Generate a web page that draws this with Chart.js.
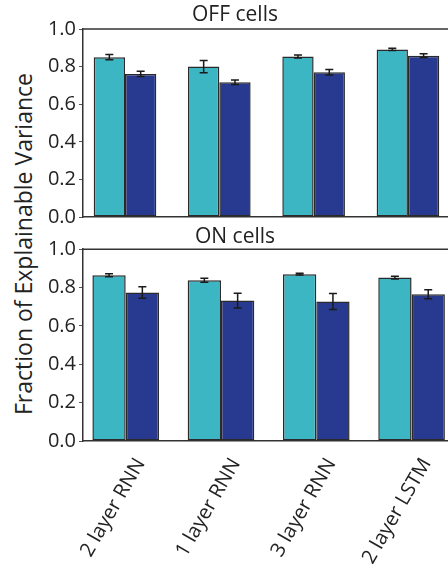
<!DOCTYPE html>
<html>
<head>
<meta charset="utf-8">
<script src="https://cdn.jsdelivr.net/npm/chart.js@4/dist/chart.umd.min.js"></script>
<style>
    html, body { margin: 0; padding: 0; background: #fff; overflow: hidden; }
    #wrap { position: relative; width: 470px; height: 569px; }
    #wrap canvas { position: absolute; left: 0; }
    #ylabel {
        position: absolute; left: 23px; top: 244px;
        transform: translate(-50%, -50%) rotate(-90deg);
        white-space: nowrap;
        font: 23px 'Open Sans', sans-serif;
        color: #222;
    }
</style>
</head>
<body>
<div id="wrap">
    <div id="ylabel">Fraction of Explainable Variance</div>
    <canvas id="offChart" width="470" height="232" style="top:0px"></canvas>
    <canvas id="onChart" width="470" height="347" style="top:222px"></canvas>
</div>
<script>
// Data
const categories = ['2 layer RNN', '1 layer RNN', '3 layer RNN', '2 layer LSTM'];
const yTicks = [0.0, 0.2, 0.4, 0.6, 0.8, 1.0];

const offCyan = [0.850, 0.800, 0.854, 0.891];
const offCyanErr = [0.014, 0.033, 0.008, 0.006];
const offBlue = [0.761, 0.717, 0.770, 0.858];
const offBlueErr = [0.014, 0.012, 0.015, 0.010];

const onCyan = [0.864, 0.838, 0.870, 0.852];
const onCyanErr = [0.008, 0.010, 0.005, 0.007];
const onBlue = [0.774, 0.732, 0.727, 0.765];
const onBlueErr = [0.030, 0.038, 0.042, 0.023];

const CYAN = '#3db6c4';
const BLUE = '#283a8f';
const EDGE = '#2a2a2a';

Chart.defaults.font.family = "'Open Sans', sans-serif";
Chart.defaults.color = '#222';

// error bars drawn through the y scale
const errorBars = {
    id: 'errorBars',
    afterDatasetsDraw(chart) {
        const ctx = chart.ctx;
        const yScale = chart.scales.y;
        chart.data.datasets.forEach((ds, di) => {
            const meta = chart.getDatasetMeta(di);
            meta.data.forEach((bar, i) => {
                const v = ds.data[i].y;
                const e = ds.errors[i];
                const top = yScale.getPixelForValue(v + e);
                const bot = yScale.getPixelForValue(v - e);
                ctx.save();
                ctx.strokeStyle = '#1a1a1a';
                ctx.lineWidth = 1.5;
                ctx.beginPath();
                ctx.moveTo(bar.x, top); ctx.lineTo(bar.x, bot);
                ctx.moveTo(bar.x - 4, top); ctx.lineTo(bar.x + 4, top);
                ctx.moveTo(bar.x - 4, bot); ctx.lineTo(bar.x + 4, bot);
                ctx.stroke();
                ctx.restore();
            });
        });
    }
};

// box around the plot area (top + right edges)
const frame = {
    id: 'frame',
    afterDraw(chart) {
        const {ctx, chartArea: a} = chart;
        ctx.save();
        ctx.strokeStyle = '#333';
        ctx.lineWidth = 1.5;
        ctx.beginPath();
        ctx.moveTo(a.left, a.top);
        ctx.lineTo(a.right, a.top);
        ctx.lineTo(a.right, a.bottom);
        ctx.stroke();
        ctx.restore();
    }
};

function makePanel(canvasId, title, cyan, cyanErr, blue, blueErr, opt) {
    const toPoints = vals => vals.map((v, i) => ({ x: i, y: v }));
    return new Chart(document.getElementById(canvasId).getContext('2d'), {
        type: 'bar',
        data: {
            datasets: [{
                label: 'cyan',
                data: toPoints(cyan),
                errors: cyanErr,
                backgroundColor: CYAN
            }, {
                label: 'blue',
                data: toPoints(blue),
                errors: blueErr,
                backgroundColor: BLUE
            }]
        },
        options: {
            responsive: false,
            animation: false,
            devicePixelRatio: 1,
            layout: { padding: { top: 0, left: 0, right: 0, bottom: opt.padBottom } },
            datasets: {
                bar: {
                    categoryPercentage: opt.catPct,
                    barPercentage: 1,
                    borderWidth: 1.5,
                    borderColor: EDGE,
                    borderSkipped: false
                }
            },
            scales: {
                x: {
                    type: 'linear',
                    offset: false,
                    min: opt.xMin,
                    max: opt.xMax,
                    afterBuildTicks: s => { s.ticks = categories.map((c, i) => ({ value: i + opt.labelShift })); },
                    ticks: {
                        display: opt.showLabels,
                        autoSkip: false,
                        minRotation: 60,
                        maxRotation: 60,
                        padding: 13,
                        font: { size: 20 },
                        callback: (v, i) => categories[i]
                    },
                    grid: { display: false, drawTicks: false, offset: false },
                    border: { display: true, color: '#333', width: 1.5 },
                    afterFit: s => { if (opt.xHeight !== undefined) s.height = opt.xHeight; }
                },
                y: {
                    min: 0,
                    max: 1,
                    afterBuildTicks: s => { s.ticks = yTicks.map(v => ({ value: v })); },
                    ticks: {
                        padding: 3,
                        font: { size: 20 },
                        callback: v => v.toFixed(1)
                    },
                    grid: { drawOnChartArea: false, tickLength: 4, color: '#555', lineWidth: 1 },
                    border: { color: '#333', width: 1.5 },
                    afterFit: s => { s.width = 83; }
                }
            },
            plugins: {
                legend: { display: false },
                tooltip: { enabled: false },
                title: {
                    display: true,
                    text: title,
                    color: '#222',
                    font: { size: 21, weight: 'normal', lineHeight: 1.2 },
                    padding: { top: opt.titlePadTop, bottom: opt.titlePadBottom }
                }
            }
        },
        plugins: [errorBars, frame]
    });
}

const offChart = makePanel('offChart', 'OFF cells', offCyan, offCyanErr, offBlue, offBlueErr, {
    catPct: 0.664,
    xMin: -0.4454,
    xMax: 3.658,
    labelShift: 0,
    showLabels: false,
    padBottom: 13,
    titlePadTop: 2.4,
    titlePadBottom: 1.4
});

const onChart = makePanel('onChart', 'ON cells', onCyan, onCyanErr, onBlue, onBlueErr, {
    catPct: 0.699,
    xMin: -0.448,
    xMax: 3.613,
    labelShift: 0.157,
    showLabels: true,
    padBottom: 0,
    titlePadTop: 2,
    titlePadBottom: 0,
    xHeight: 128
});
</script>
</body>
</html>
